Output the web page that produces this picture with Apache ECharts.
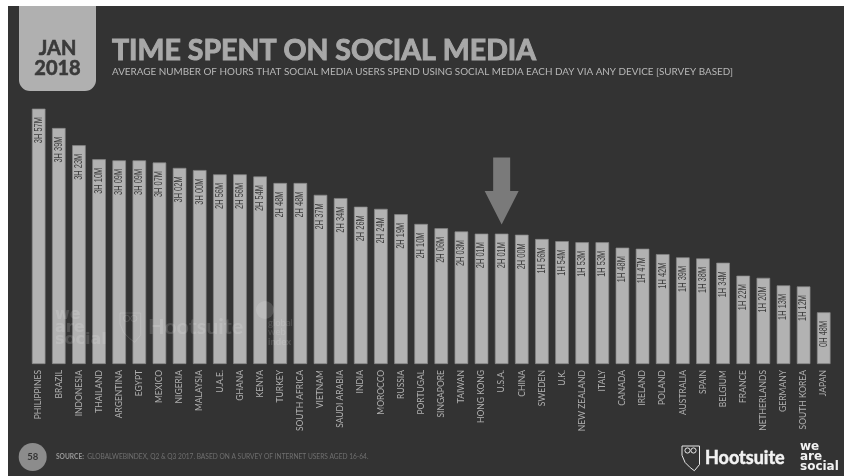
<!DOCTYPE html>
<html>
<head>
<meta charset="utf-8">
<style>html,body{margin:0;padding:0;background:#fff}#c{width:844px;height:476px}</style>
<script src="https://cdn.jsdelivr.net/npm/echarts@6/dist/echarts.min.js"></script>
</head>
<body>
<div id="c"></div>
<script>
// Daily social media use per country, in minutes, with the printed h/m figure.
const countries = ['PHILIPPINES','BRAZIL','INDONESIA','THAILAND','ARGENTINA','EGYPT','MEXICO','NIGERIA','MALAYSIA','U.A.E.','GHANA','KENYA','TURKEY','SOUTH AFRICA','VIETNAM','SAUDI ARABIA','INDIA','MOROCCO','RUSSIA','PORTUGAL','SINGAPORE','TAIWAN','HONG KONG','U.S.A.','CHINA','SWEDEN','U.K.','NEW ZEALAND','ITALY','CANADA','IRELAND','POLAND','AUSTRALIA','SPAIN','BELGIUM','FRANCE','NETHERLANDS','GERMANY','SOUTH KOREA','JAPAN'];
const minutes = [237,219,203,190,189,189,187,182,180,176,176,174,168,168,157,154,146,144,139,130,126,123,121,121,120,116,114,113,113,108,107,102,99,98,94,82,80,73,72,48];
const highlighted = 'U.S.A.';

const fmt = m => Math.floor(m / 60) + 'H ' + String(m % 60).padStart(2, '0') + 'M';
const display = 'Lato, "Noto Sans", sans-serif';
const wide = '"DejaVu Sans", sans-serif';
const plain = '"Liberation Sans", sans-serif';
const faint = 'rgba(255,255,255,0.14)';

const chart = echarts.init(document.getElementById('c'), null, {renderer: 'canvas'});

// Shield outline of the owl badge, scaled per use
const shield = (x, y, s) => [[0,0],[17,0],[17,18],[12,24],[8,21],[3,16],[0,9]].map(p => [x + p[0] * s, y + p[1] * s]);

// Two small rings for the owl's eyes
const eyes = (x, y, s, colour, z) => [5.5, 11.5].map(dx => ({
  type: 'circle', z, shape: {cx: x + dx * s, cy: y + 4.5 * s, r: 2.6 * s},
  style: {fill: 'none', stroke: colour, lineWidth: 1}
}));

// One line of a stacked wordmark
const word = (text, x, y, font, fill) => ({
  type: 'text', z: 6, x, y, style: {text, verticalAlign: 'middle', font, fill}
});

chart.setOption({
  animation: false,
  backgroundColor: '#fff',
  grid: {left: 28.6, right: 10.2, top: 100, bottom: 112},
  xAxis: {
    type: 'category', data: countries,
    axisLine: {show: false}, axisTick: {show: false},
    axisLabel: {rotate: 90, interval: 0, margin: 6, fontFamily: display, fontSize: 8.5, color: '#b0b0b0'}
  },
  yAxis: {type: 'value', min: 0, max: 245, show: false, splitLine: {show: false}},
  series: [{
    type: 'bar', data: minutes, barWidth: 13.6, z: 3,
    itemStyle: {color: '#b2b2b2', borderColor: '#858585', borderWidth: 0.7},
    markPoint: {
      silent: true, animation: false,
      data: [{
        coord: [highlighted, minutes[countries.indexOf(highlighted)]],
        symbol: 'path://M8.5,0 L25.5,0 L25.5,33.5 L34,33.5 L17,67 L0,33.5 L8.5,33.5 Z',
        symbolSize: [34, 67], symbolOffset: [0, -42.5],
        itemStyle: {color: '#7a7a7a'}, label: {show: false}
      }]
    }
  }, {
    // Condensed duration labels reading upward from just under each bar's top
    type: 'custom', silent: true, z: 4,
    data: minutes.map((m, i) => [i, m]),
    renderItem: (params, api) => {
      const p = api.coord([api.value(0), api.value(1)]);
      return {
        type: 'text', x: p[0], y: p[1] + 8.5, rotation: Math.PI / 2, scaleX: 0.71, scaleY: 1,
        style: {text: fmt(api.value(1)), align: 'right', verticalAlign: 'middle', font: '10.5px ' + plain, fill: '#3c3c3c'}
      };
    }
  }],
  graphic: [
    {type: 'rect', z: -10, shape: {x: 8, y: 6, width: 836, height: 470}, style: {fill: '#333333'}},
    {type: 'rect', z: -9, shape: {x: 19, y: 6, width: 77, height: 85, r: [0, 0, 11, 11]}, style: {fill: '#b0b0b0'}},
    {type: 'text', z: 5, x: 57.5, y: 48.5, style: {text: 'JAN', align: 'center', verticalAlign: 'middle', font: '700 20px ' + display, fill: '#3a3a3a', stroke: '#3a3a3a', lineWidth: 0.6}},
    {type: 'text', z: 5, x: 57.5, y: 68.5, style: {text: '2018', align: 'center', verticalAlign: 'middle', font: '700 20px ' + display, fill: '#3a3a3a', stroke: '#3a3a3a', lineWidth: 0.6}},
    {type: 'text', z: 5, x: 112, y: 50.5, style: {text: 'TIME SPENT ON SOCIAL MEDIA', verticalAlign: 'middle', font: '700 28.5px ' + display, fill: '#a8a8a8', stroke: '#a8a8a8', lineWidth: 1}},
    {type: 'text', z: 5, x: 112, y: 72, style: {text: 'AVERAGE NUMBER OF HOURS THAT SOCIAL MEDIA USERS SPEND USING SOCIAL MEDIA EACH DAY VIA ANY DEVICE [SURVEY BASED]', verticalAlign: 'middle', font: '9.9px ' + display, fill: '#b8b8b8'}},
    {type: 'circle', z: 5, shape: {cx: 32.7, cy: 457, r: 14}, style: {fill: '#8c8c8c'}},
    {type: 'text', z: 5, x: 32.7, y: 457, style: {text: '58', align: 'center', verticalAlign: 'middle', font: '700 9.5px ' + display, fill: '#333'}},
    {type: 'text', z: 5, x: 56, y: 457, style: {rich: {b: {font: '700 6.6px ' + display, fill: '#999'}, n: {font: '6.6px ' + display, fill: '#707070'}}, text: '{b|SOURCE:} {n|GLOBALWEBINDEX, Q2 & Q3 2017. BASED ON A SURVEY OF INTERNET USERS AGED 16-64.}', verticalAlign: 'middle'}},

    // brand marks in the footer
    {type: 'polygon', z: 5, shape: {points: shield(682, 446, 1.03)}, style: {fill: 'none', stroke: '#e8e8e8', lineWidth: 1}},
    ...eyes(682, 446, 1, '#e8e8e8', 5),
    {type: 'text', z: 5, x: 705, y: 458, style: {text: 'Hootsuite', verticalAlign: 'middle', font: '700 18px ' + display, fill: '#f2f2f2', stroke: '#f2f2f2', lineWidth: 0.5}},
    word('we', 800, 447, '700 12px ' + wide, '#f2f2f2'),
    word('are', 800, 457, '700 12px ' + wide, '#f2f2f2'),
    word('social', 800, 466.5, '700 12px ' + wide, '#f2f2f2'),

    // faint watermarks across the bars
    word('we', 55, 315, '700 16px ' + wide, faint),
    word('are', 55, 327.5, '700 16px ' + wide, faint),
    word('social', 55, 340, '700 16px ' + wide, faint),
    {type: 'polygon', z: 6, shape: {points: shield(120, 313, 1.22)}, style: {fill: 'none', stroke: faint, lineWidth: 1}},
    ...eyes(120, 313, 1.2, faint, 6),
    {type: 'text', z: 6, x: 148, y: 327, style: {text: 'Hootsuite', verticalAlign: 'middle', font: '700 21.5px ' + display, fill: faint}},
    {type: 'circle', z: 6, shape: {cx: 265, cy: 310, r: 9}, style: {fill: faint}},
    word('global', 268, 323, '9.5px ' + display, faint),
    word('web', 268, 332, '9.5px ' + display, faint),
    word('index', 268, 342, '700 9.5px ' + display, faint)
  ]
});
</script>
</body>
</html>
